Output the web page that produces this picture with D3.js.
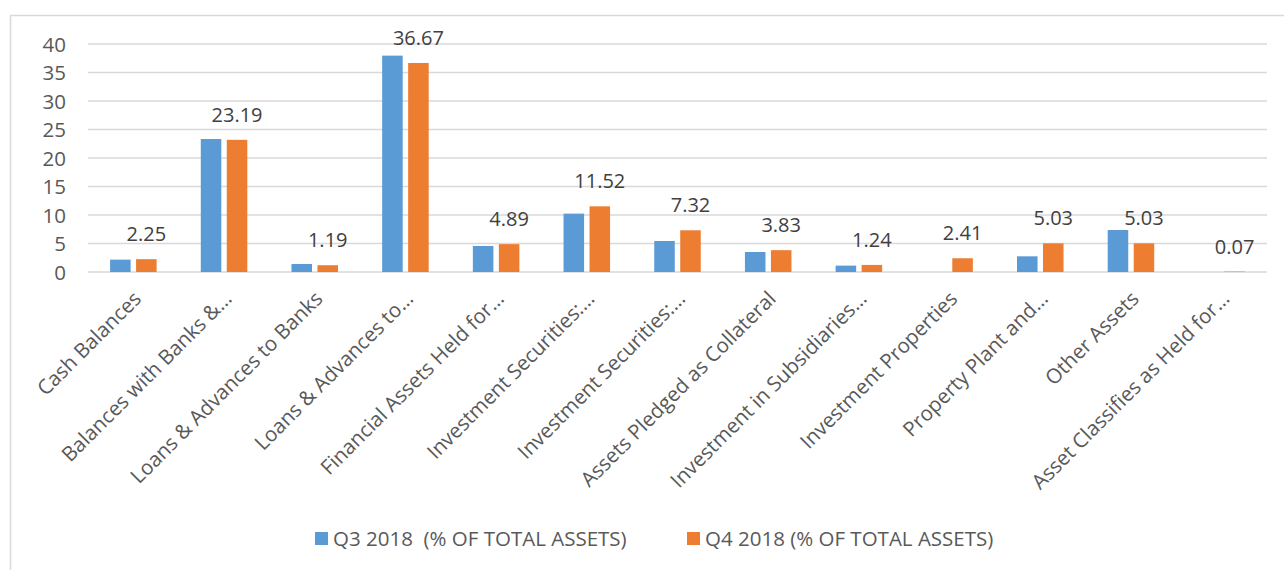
<!DOCTYPE html>
<html><head><meta charset="utf-8">
<script src="https://cdn.jsdelivr.net/npm/d3@7"></script>
<style>
html,body{margin:0;padding:0;background:#fff;}
svg{display:block;font-family:"Open Sans","Noto Sans",sans-serif;}
</style></head>
<body>
<svg id="chart" width="1284" height="570"></svg>
<script>
const categories = [
  "Cash Balances",
  "Balances with Banks &…",
  "Loans & Advances to Banks",
  "Loans & Advances to…",
  "Financial Assets Held for…",
  "Investment Securities:…",
  "Investment Securities:…",
  "Assets Pledged as Collateral",
  "Investment in Subsidiaries…",
  "Investment Properties",
  "Property Plant and…",
  "Other Assets",
  "Asset Classifies as Held for…"
];
const seriesNames = ["Q3 2018  (% OF TOTAL ASSETS)", "Q4 2018 (% OF TOTAL ASSETS)"];
const q3Values = [2.17, 23.33, 1.40, 37.96, 4.56, 10.24, 5.44, 3.51, 1.12, 0, 2.75, 7.37, 0];
const q4Values = [2.25, 23.19, 1.19, 36.67, 4.89, 11.52, 7.32, 3.83, 1.24, 2.41, 5.03, 5.03, 0.07];
const yTicks = [0, 5, 10, 15, 20, 25, 30, 35, 40];
const colors = ["#5B9BD5", "#ED7D31"];

const svg = d3.select("#chart");
const W = 1284, H = 570;
const plot = {left: 88, right: 1267, top: 44, bottom: 272};

// chart border
svg.append("rect").attr("x", 10.5).attr("y", 15.5).attr("width", W).attr("height", H)
  .attr("fill", "none").attr("stroke", "#d9d9d9").attr("stroke-width", 1.5);

const x = d3.scaleBand().domain(d3.range(categories.length))
  .range([plot.left, plot.right]).paddingInner(0.487).paddingOuter(0.2435);
const x1 = d3.scaleBand().domain([0, 1]).range([0, x.bandwidth()]).paddingInner(0.21);
const y = d3.scaleLinear().domain([0, 40]).range([plot.bottom, plot.top]);

// gridlines
svg.append("g").selectAll("line").data(yTicks).join("line")
  .attr("x1", plot.left).attr("x2", plot.right)
  .attr("y1", d => y(d)).attr("y2", d => y(d))
  .attr("stroke", "#d9d9d9").attr("stroke-width", 1.3);

// y axis labels
const yAxis = d3.axisLeft(y).tickValues(yTicks).tickSize(0).tickPadding(0);
const yg = svg.append("g").attr("transform", `translate(66,0)`).call(yAxis);
yg.select(".domain").remove();
yg.selectAll("text").attr("font-size", 20.5).attr("fill", "#595959")
  .attr("font-family", "'Open Sans',sans-serif").attr("dy", "0.35em");

// bars
const data = categories.map((c, i) => ({i, vals: [q3Values[i], q4Values[i]]}));
const groups = svg.append("g").selectAll("g").data(data).join("g")
  .attr("transform", d => `translate(${x(d.i)},0)`);
groups.selectAll("rect").data(d => d.vals.map((v, s) => ({v, s}))).join("rect")
  .attr("x", d => x1(d.s)).attr("width", x1.bandwidth())
  .attr("y", d => y(d.v)).attr("height", d => y(0) - y(d.v))
  .attr("fill", d => colors[d.s]);

// data labels for Q4
groups.append("text")
  .attr("x", d => x1(1) + x1.bandwidth() / 2)
  .attr("y", d => y(d.vals[1]) - 18)
  .attr("text-anchor", "middle").attr("font-size", 20).attr("fill", "#404040")
  .text(d => d3.format(".2f")(d.vals[1]));

// category labels
svg.append("g").selectAll("text").data(data).join("text")
  .attr("transform", d => `translate(${x(d.i) + x.bandwidth() / 2 + 4},${plot.bottom + 23}) rotate(-45)`)
  .attr("text-anchor", "end").attr("dy", "0.35em")
  .attr("font-size", 20.5).attr("fill", "#595959")
  .text(d => categories[d.i]);

// legend
const legendItems = [{x: 315, s: 0}, {x: 687, s: 1}];
const lg = svg.append("g").selectAll("g").data(legendItems).join("g")
  .attr("transform", d => `translate(${d.x},538.5)`);
lg.append("rect").attr("x", 0).attr("y", -6.5).attr("width", 13).attr("height", 13)
  .attr("fill", d => colors[d.s]);
lg.append("text").attr("x", 18).attr("dy", "0.35em").attr("font-size", 20.5)
  .attr("fill", "#595959").attr("xml:space", "preserve")
  .text(d => seriesNames[d.s]);
</script>
</body></html>
